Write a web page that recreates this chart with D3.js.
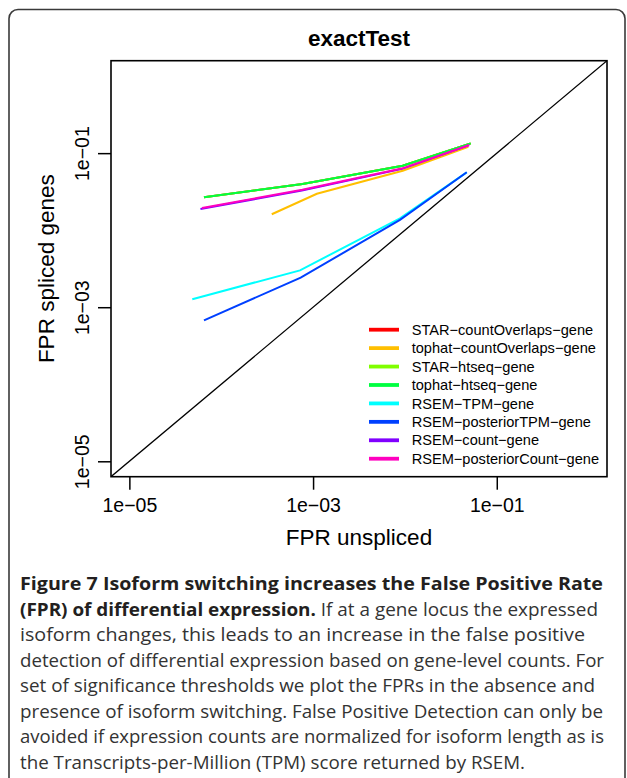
<!DOCTYPE html>
<html>
<head>
<meta charset="utf-8">
<script src="https://cdn.jsdelivr.net/npm/d3@7"></script>
<style>
  html, body { margin: 0; padding: 0; background: #fff; }
  svg { display: block; }
</style>
</head>
<body>
<script>
// ---------- data ----------
const categories = [
  "STAR\u2212countOverlaps\u2212gene",
  "tophat\u2212countOverlaps\u2212gene",
  "STAR\u2212htseq\u2212gene",
  "tophat\u2212htseq\u2212gene",
  "RSEM\u2212TPM\u2212gene",
  "RSEM\u2212posteriorTPM\u2212gene",
  "RSEM\u2212count\u2212gene",
  "RSEM\u2212posteriorCount\u2212gene"
];
const seriesColors = ["#FF0000", "#FFBF00", "#80FF00", "#00FF40", "#00FFFF", "#0040FF", "#8000FF", "#FF00BF"];

// FPR unspliced (x) and FPR spliced genes (y), per series
const starCountX        = [6.49e-5, 7.67e-4, 9.46e-3, 5.20e-2];
const starCountY        = [0.0267, 0.0397, 0.0687, 0.134];
const tophatCountX      = [3.55e-4, 1.10e-3, 9.46e-3, 4.90e-2];
const tophatCountY      = [0.0161, 0.0297, 0.0592, 0.121];
const starHtseqX        = [6.49e-5, 7.67e-4, 9.46e-3, 5.20e-2];
const starHtseqY        = [0.0267, 0.0397, 0.0687, 0.134];
const tophatHtseqX      = [6.49e-5, 7.67e-4, 9.46e-3, 5.20e-2];
const tophatHtseqY      = [0.0267, 0.0397, 0.0687, 0.134];
const rsemTpmX          = [4.84e-5, 7.21e-4, 8.83e-3, 4.71e-2];
const rsemTpmY          = [1.27e-3, 3.01e-3, 1.426e-2, 5.64e-2];
const rsemPostTpmX      = [6.49e-5, 7.33e-4, 8.83e-3, 4.71e-2];
const rsemPostTpmY      = [6.76e-4, 2.42e-3, 1.36e-2, 5.64e-2];
const rsemCountX        = [5.94e-5, 7.55e-4, 9.30e-3, 4.95e-2];
const rsemCountY        = [0.0188, 0.0328, 0.0625, 0.126];
const rsemPostCountX    = [6.18e-5, 7.64e-4, 9.46e-3, 5.02e-2];
const rsemPostCountY    = [0.0194, 0.0335, 0.0635, 0.1276];

const seriesX = [starCountX, tophatCountX, starHtseqX, tophatHtseqX, rsemTpmX, rsemPostTpmX, rsemCountX, rsemPostCountX];
const seriesY = [starCountY, tophatCountY, starHtseqY, tophatHtseqY, rsemTpmY, rsemPostTpmY, rsemCountY, rsemPostCountY];

const axisDomain = [Math.pow(10, -5.2), Math.pow(10, 0.2)];
const tickValues = [1e-5, 1e-3, 1e-1];
const tickLabels = ["1e\u221205", "1e\u221203", "1e\u221201"];

const chartTitle = "exactTest";
const xTitle = "FPR unspliced";
const yTitle = "FPR spliced genes";

const captionLines = [
  [{b: true, t: "Figure 7 Isoform switching increases the False Positive Rate"}],
  [{b: true, t: "(FPR) of differential expression."}, {b: false, t: "If at a gene locus the expressed"}],
  [{b: false, t: "isoform changes, this leads to an increase in the false positive"}],
  [{b: false, t: "detection of differential expression based on gene-level counts. For"}],
  [{b: false, t: "set of significance thresholds we plot the FPRs in the absence and"}],
  [{b: false, t: "presence of isoform switching. False Positive Detection can only be"}],
  [{b: false, t: "avoided if expression counts are normalized for isoform length as is"}],
  [{b: false, t: "the Transcripts-per-Million (TPM) score returned by RSEM."}]
];
const captionLineEnds = [603, 598, 585, 604, 595, 603, 604, 525];

// ---------- layout ----------
const W = 627, H = 778;
const plot = {left: 111, top: 60.7, right: 607, bottom: 476.7};
const fontR = "'Liberation Sans', Arial, Helvetica, sans-serif";
const fontC = "'Open Sans', 'Noto Sans', sans-serif";

const svg = d3.select("body").append("svg").attr("width", W).attr("height", H);

// outer rounded frame
svg.append("rect")
  .attr("x", 9).attr("y", 9.5).attr("width", 616).attr("height", 820)
  .attr("rx", 9).attr("ry", 9)
  .attr("fill", "none").attr("stroke", "#3a3a3a").attr("stroke-width", 1.6);

const x = d3.scaleLog().domain(axisDomain).range([plot.left, plot.right]);
const y = d3.scaleLog().domain(axisDomain).range([plot.bottom, plot.top]);

// clip
svg.append("clipPath").attr("id", "clip").append("rect")
  .attr("x", plot.left).attr("y", plot.top)
  .attr("width", plot.right - plot.left).attr("height", plot.bottom - plot.top);

const g = svg.append("g").attr("clip-path", "url(#clip)");

// diagonal
g.append("line")
  .attr("x1", x(axisDomain[0])).attr("y1", y(axisDomain[0]))
  .attr("x2", x(axisDomain[1])).attr("y2", y(axisDomain[1]))
  .attr("stroke", "#000").attr("stroke-width", 1.3);

// series lines
const line = d3.line().x(d => x(d[0])).y(d => y(d[1]));
categories.forEach((name, i) => {
  const pts = seriesX[i].map((v, j) => [v, seriesY[i][j]]);
  g.append("path").datum(pts)
    .attr("d", line)
    .attr("fill", "none")
    .attr("stroke", seriesColors[i])
    .attr("stroke-width", 2);
});

// box
svg.append("rect")
  .attr("x", plot.left).attr("y", plot.top)
  .attr("width", plot.right - plot.left).attr("height", plot.bottom - plot.top)
  .attr("fill", "none").attr("stroke", "#000").attr("stroke-width", 1.6);

// axes
const xAxis = d3.axisBottom(x).tickValues(tickValues).tickFormat((d, i) => tickLabels[i]).tickSize(13).tickPadding(9);
const xg = svg.append("g").attr("transform", `translate(0,${plot.bottom})`).call(xAxis);
xg.select(".domain").remove();
xg.selectAll(".tick line").attr("stroke", "#000").attr("stroke-width", 1.5);
xg.selectAll(".tick text").attr("font-family", fontR).attr("font-size", 19.5).attr("fill", "#000")
  .attr("y", 28).attr("dy", "0.35em");

const yAxis = d3.axisLeft(y).tickValues(tickValues).tickFormat((d, i) => tickLabels[i]).tickSize(13);
const yg = svg.append("g").attr("transform", `translate(${plot.left},0)`).call(yAxis);
yg.select(".domain").remove();
yg.selectAll(".tick line").attr("stroke", "#000").attr("stroke-width", 1.5);
yg.selectAll(".tick text").attr("font-family", fontR).attr("font-size", 19.5).attr("fill", "#000")
  .attr("transform", "rotate(-90)")
  .attr("x", 0).attr("y", -29).attr("dy", "0.35em")
  .attr("text-anchor", "middle");

// titles
svg.append("text").attr("x", (plot.left + plot.right) / 2).attr("y", 38).attr("dy", "0.35em")
  .attr("text-anchor", "middle").attr("font-family", fontR).attr("font-weight", "bold")
  .attr("font-size", 22.5).attr("fill", "#000").text(chartTitle);

svg.append("text").attr("x", (plot.left + plot.right) / 2).attr("y", 537).attr("dy", "0.35em")
  .attr("text-anchor", "middle").attr("font-family", fontR)
  .attr("font-size", 22.5).attr("fill", "#000").text(xTitle);

svg.append("text")
  .attr("transform", `translate(46,${(plot.top + plot.bottom) / 2}) rotate(-90)`)
  .attr("dy", "0.35em")
  .attr("text-anchor", "middle").attr("font-family", fontR)
  .attr("font-size", 22.5).attr("fill", "#000").text(yTitle);

// legend
const legend = svg.append("g");
categories.forEach((name, i) => {
  const ly = 329.7 + i * 18.43;
  legend.append("line").attr("x1", 369).attr("x2", 399).attr("y1", ly).attr("y2", ly)
    .attr("stroke", seriesColors[i]).attr("stroke-width", 3.8);
  legend.append("text").attr("x", 411.7).attr("y", ly).attr("dy", "0.35em")
    .attr("font-family", fontR).attr("font-size", 14.6).attr("fill", "#000").text(name);
});

// caption: measure natural widths, then fit each line between x=20 and its end
const capSize = 18.5;
const spaceProbe = svg.append("text").attr("font-family", fontC).attr("font-size", capSize)
  .attr("xml:space", "preserve").text("a a");
const probeA = svg.append("text").attr("font-family", fontC).attr("font-size", capSize).text("aa");
const spaceW = spaceProbe.node().getComputedTextLength() - probeA.node().getComputedTextLength();
spaceProbe.remove(); probeA.remove();

captionLines.forEach((parts, i) => {
  const by = 590 + i * 25.5;
  const nodes = parts.map(p => svg.append("text")
      .attr("y", by)
      .attr("font-family", fontC)
      .attr("font-weight", p.b ? "bold" : "normal")
      .attr("font-size", capSize)
      .attr("fill", p.b ? "#231f20" : "#333")
      .text(p.t));
  const widths = nodes.map(n => n.node().getComputedTextLength());
  const natural = d3.sum(widths) + spaceW * (parts.length - 1);
  const f = (captionLineEnds[i] - 20) / natural;
  let cx = 20;
  nodes.forEach((n, k) => {
    n.attr("x", cx).attr("textLength", widths[k] * f).attr("lengthAdjust", "spacingAndGlyphs");
    cx += (widths[k] + spaceW) * f;
  });
});
</script>
</body>
</html>
